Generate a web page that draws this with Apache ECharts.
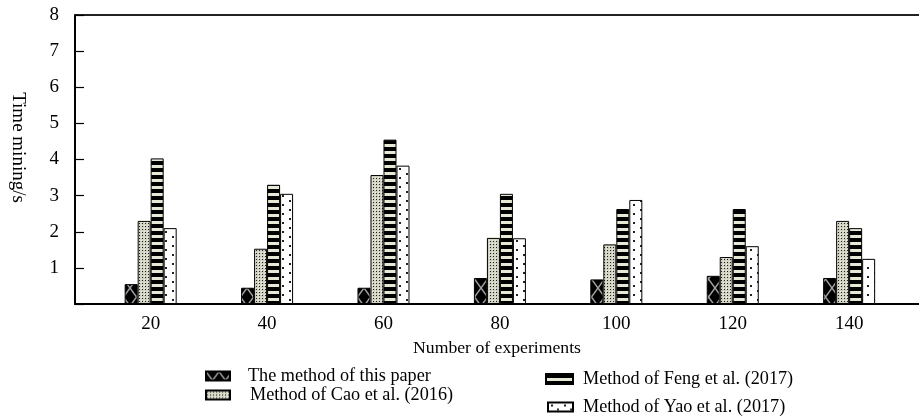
<!DOCTYPE html>
<html>
<head>
<meta charset="utf-8">
<script src="https://cdn.jsdelivr.net/npm/echarts@6/dist/echarts.min.js"></script>
<style>
html,body{margin:0;padding:0;background:#fff;}
#chart{width:919px;height:419px;}
</style>
</head>
<body>
<div id="chart"></div>
<script>
// ---- data ----
const experiments = [20, 40, 60, 80, 100, 120, 140];
const seriesNames = [
  'The method of this paper',
  'Method of Cao et al. (2016)',
  'Method of Feng et al. (2017)',
  'Method of Yao et al. (2017)'
];
const thisPaper = [0.55, 0.45, 0.45, 0.72, 0.68, 0.78, 0.72];
const caoEtAl   = [2.30, 1.53, 3.57, 1.83, 1.65, 1.30, 2.30];
const fengEtAl  = [4.03, 3.30, 4.55, 3.05, 2.63, 2.63, 2.10];
const yaoEtAl   = [2.10, 3.05, 3.83, 1.82, 2.88, 1.60, 1.25];
const yTicks = [1, 2, 3, 4, 5, 6, 7, 8];

// ---- patterns ----
function makeCanvas(w, h, draw) {
  const c = document.createElement('canvas');
  c.width = w; c.height = h;
  draw(c.getContext('2d'));
  return c;
}
const patCross = makeCanvas(13, 18, g => {
  g.fillStyle = '#000'; g.fillRect(0, 0, 13, 18);
  g.strokeStyle = '#a0a0a0'; g.lineWidth = 1.5;
  g.beginPath(); g.moveTo(0, 0); g.lineTo(13, 18); g.moveTo(13, 0); g.lineTo(0, 18); g.stroke();
});
const patDense = makeCanvas(3, 3, g => {
  g.fillStyle = '#d2d2c2'; g.fillRect(0, 0, 3, 3);
  g.fillStyle = '#1e1e1e'; g.fillRect(1, 1, 1, 1);
  g.fillStyle = '#eeeee2'; g.fillRect(0, 0, 1, 1);
});
const patStripe = makeCanvas(4, 7, g => {
  g.fillStyle = '#e8e8d6'; g.fillRect(0, 0, 4, 7);
  g.fillStyle = '#000'; g.fillRect(0, 0, 4, 4);
});
const patDots = makeCanvas(13, 9, g => {
  g.fillStyle = '#fff'; g.fillRect(0, 0, 13, 9);
  g.fillStyle = '#222';
  g.fillRect(3, 2, 2, 2);
  g.fillRect(9, 6, 2, 2);
});
const patterns = [patCross, patDense, patStripe, patDots];
const values = [thisPaper, caoEtAl, fengEtAl, yaoEtAl];

const FONT = 'Liberation Serif';

const series = seriesNames.map((name, i) => ({
  name: name,
  type: 'bar',
  barWidth: 13,
  barGap: '0%',
  data: experiments.map((x, j) => [x, values[i][j]]),
  itemStyle: {
    color: { image: patterns[i], repeat: 'repeat' },
    borderColor: '#000',
    borderWidth: 1
  },
  emphasis: { disabled: true }
}));

function legendAt(name, left, top, w, h, pad) {
  return {
    data: [name],
    left: left, top: top, padding: 0,
    itemWidth: w, itemHeight: h,
    icon: 'rect',
    selectedMode: false,
    textStyle: { fontFamily: FONT, fontSize: 18.2, color: '#000', padding: [0, 0, 0, pad] }
  };
}

const option = {
  backgroundColor: '#fff',
  animation: false,
  grid: { left: 72, right: 0, top: 15, bottom: 115, containLabel: false },
  legend: [
    legendAt(seriesNames[0], 205, 367, 24, 9, 13),
    legendAt(seriesNames[1], 205, 386, 24, 9, 15),
    legendAt(seriesNames[2], 545, 370, 27, 10, 5),
    legendAt(seriesNames[3], 547, 398, 25, 9, 5)
  ],
  xAxis: [{
    type: 'value',
    min: 7, max: 152,
    position: 'bottom',
    name: 'Number of experiments',
    nameLocation: 'middle',
    nameGap: 35,
    nameTextStyle: { fontFamily: FONT, fontSize: 17.7, color: '#000' },
    axisLine: { show: true, lineStyle: { color: '#000', width: 2 } },
    axisTick: { show: false },
    splitLine: { show: false },
    axisLabel: {
      customValues: experiments,
      fontFamily: FONT, fontSize: 19, color: '#000', margin: 11
    }
  }, {
    type: 'value',
    min: 7, max: 152,
    position: 'top',
    axisLine: { show: true, onZero: false, lineStyle: { color: '#222', width: 2 } },
    axisTick: { show: false },
    axisLabel: { show: false },
    splitLine: { show: false }
  }],
  yAxis: {
    type: 'value',
    min: 0, max: 8, interval: 1,
    name: 'Time mining/s',
    nameLocation: 'middle',
    nameRotate: -90,
    nameGap: 48,
    nameTextStyle: { fontFamily: FONT, fontSize: 19, color: '#000', padding: [0, 24, 0, 0] },
    axisLine: { show: true, lineStyle: { color: '#000', width: 2 } },
    axisTick: { show: true, inside: true, length: 9, lineStyle: { color: '#000', width: 1.2 } },
    splitLine: { show: false },
    axisLabel: {
      fontFamily: FONT, fontSize: 19, color: '#000', margin: 16,
      formatter: v => (yTicks.indexOf(v) >= 0 ? String(v) : '')
    }
  },
  series: series
};

const chart = echarts.init(document.getElementById('chart'), null, { renderer: 'canvas' });
chart.setOption(option);
</script>
</body>
</html>
